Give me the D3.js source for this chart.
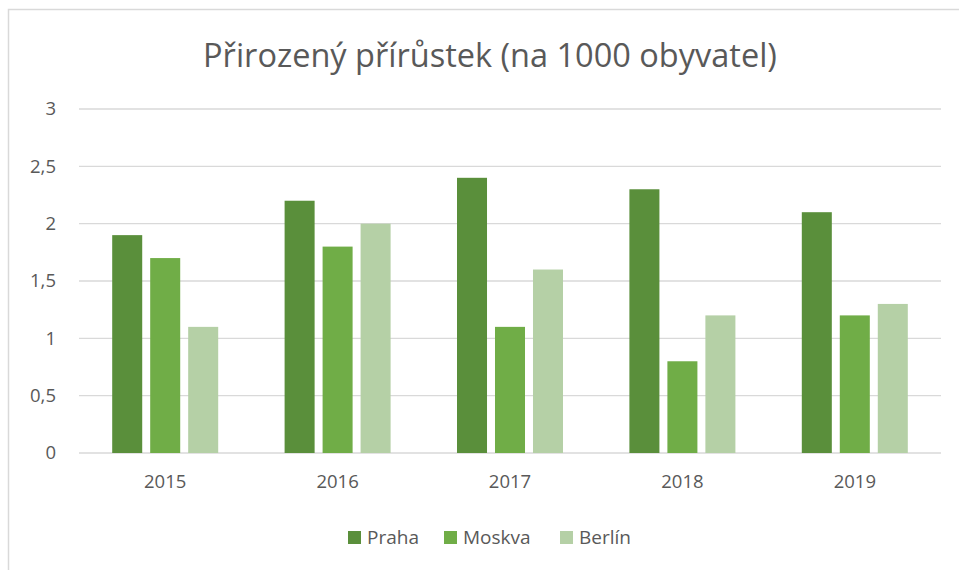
<!DOCTYPE html>
<html>
<head>
<meta charset="utf-8">
<script src="https://cdn.jsdelivr.net/npm/d3@7"></script>
<style>
  body { margin: 0; background: #fff; }
  svg { display: block; font-family: "Open Sans", "Noto Sans", sans-serif; }
</style>
</head>
<body>
<svg id="chart"></svg>
<script>
// data
const categories = ['2015', '2016', '2017', '2018', '2019'];
const seriesNames = ['Praha', 'Moskva', 'Berlín'];
const praha = [1.9, 2.2, 2.4, 2.3, 2.1];
const moskva = [1.7, 1.8, 1.1, 0.8, 1.2];
const berlin = [1.1, 2.0, 1.6, 1.2, 1.3];
const yTicks = [0, 0.5, 1, 1.5, 2, 2.5, 3];
const colors = ['#5a8f3b', '#70ad47', '#b5d0a6'];

const values = [praha, moskva, berlin];
const rows = categories.map((c, i) => ({
    cat: c,
    vals: seriesNames.map((s, j) => ({ key: s, value: values[j][i] }))
}));

const W = 959, H = 570;
const margin = { top: 109, right: 18, bottom: 117, left: 79 };
const width = W - margin.left - margin.right;
const height = H - margin.top - margin.bottom;
const groupW = 106; // width of a cluster of 3 bars

const svg = d3.select('#chart').attr('width', W).attr('height', H);

// chart border (open to the right / bottom like the crop)
svg.append('rect')
    .attr('x', 8.5).attr('y', 9.5)
    .attr('width', 1000).attr('height', 1000)
    .attr('fill', 'none')
    .attr('stroke', '#d9d9d9')
    .attr('stroke-width', 1.5);

// title
svg.append('text')
    .attr('x', 490).attr('y', 67)
    .attr('text-anchor', 'middle')
    .attr('fill', '#595959')
    .style('font-size', '32.5px')
    .text('Přirozený přírůstek (na 1000 obyvatel)');

const g = svg.append('g').attr('transform', `translate(${margin.left},${margin.top})`);

const x0 = d3.scaleBand().domain(categories).range([0, width]);
const x1 = d3.scaleBand().domain(seriesNames).range([0, groupW]).paddingInner(0.21);
const y = d3.scaleLinear().domain([0, 3]).range([height, 0]);
const color = d3.scaleOrdinal().domain(seriesNames).range(colors);

// gridlines
g.append('g')
    .selectAll('line')
    .data(yTicks)
    .join('line')
    .attr('x1', 0).attr('x2', width)
    .attr('y1', d => y(d)).attr('y2', d => y(d))
    .attr('stroke', '#d9d9d9')
    .attr('stroke-width', 1.3);

// y axis labels
const yAxis = g.append('g')
    .call(d3.axisLeft(y).tickValues(yTicks).tickSize(0).tickPadding(23)
        .tickFormat(d => String(d).replace('.', ',')));
yAxis.select('.domain').remove();
yAxis.selectAll('text').attr('fill', '#595959').style('font-size', '18.5px')
    .style('font-family', '"Open Sans", sans-serif');

// bars
g.append('g')
    .selectAll('g')
    .data(rows)
    .join('g')
    .attr('transform', d => `translate(${x0(d.cat) + (x0.bandwidth() - groupW) / 2},0)`)
    .selectAll('rect')
    .data(d => d.vals)
    .join('rect')
    .attr('x', d => x1(d.key))
    .attr('y', d => y(d.value))
    .attr('width', x1.bandwidth())
    .attr('height', d => height - y(d.value))
    .attr('fill', d => color(d.key));

// x axis labels
const xAxis = g.append('g')
    .attr('transform', `translate(0,${height})`)
    .call(d3.axisBottom(x0).tickSize(0).tickPadding(22));
xAxis.select('.domain').remove();
xAxis.selectAll('text').attr('fill', '#595959').style('font-size', '18.5px')
    .style('font-family', '"Open Sans", sans-serif');

// legend
const legendX = [348, 444, 560];
const legend = svg.append('g')
    .selectAll('g')
    .data(seriesNames)
    .join('g')
    .attr('transform', (d, i) => `translate(${legendX[i]},531)`);
legend.append('rect')
    .attr('width', 13).attr('height', 13)
    .attr('fill', d => color(d));
legend.append('text')
    .attr('x', 19).attr('y', 13)
    .attr('fill', '#595959')
    .style('font-size', '19px')
    .text(d => d);
</script>
</body>
</html>
